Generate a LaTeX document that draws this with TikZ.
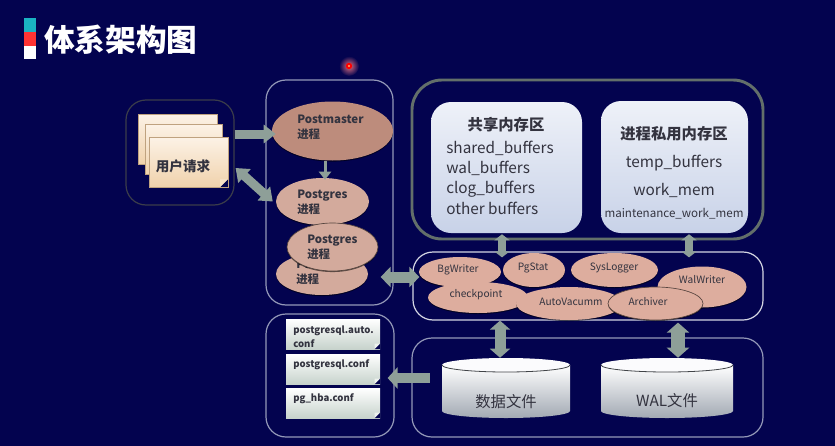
\documentclass[tikz,border=0pt]{standalone}
\usepackage{fontspec}
\setmainfont{Noto Sans CJK SC}
\usetikzlibrary{shapes.geometric,arrows.meta,shadows}
\def\u{0.75pt}
\newcommand{\fpx}[2]{\fontsize{#1}{#2}\selectfont}
\definecolor{bg}{HTML}{03034F}
\definecolor{arrowc}{HTML}{8E9F98}
\definecolor{edgelight}{HTML}{9499B8}
\definecolor{darktxt}{HTML}{33333F}
\definecolor{pmfill}{HTML}{BD8C7C}
\definecolor{pgfill}{HTML}{D3AA9C}
\definecolor{bgproc}{HTML}{DDAD9E}
\definecolor{memT}{HTML}{EEF1F8}
\definecolor{memb}{HTML}{C8D2E8}
\definecolor{paperT}{HTML}{FCF2E6}
\definecolor{paperB}{HTML}{F0D2AC}
\definecolor{paperE}{HTML}{BFA27F}
\definecolor{confB}{HTML}{C7D3CC}
\definecolor{confF}{HTML}{EEF2EE}
\definecolor{cylB}{HTML}{A2A9B3}
\definecolor{glow}{HTML}{E07080}
\tikzset{
  x=0.75pt,y=-0.75pt,
  framebox/.style={draw=edgelight,line width=0.9pt,rounded corners=20*\u,inner sep=0,fill=none},
  membox/.style={rounded corners=20*\u,inner sep=0,top color=memT,bottom color=memb,draw=none},
  paper/.style={rectangle,inner sep=0,top color=paperT,bottom color=paperB,draw=paperE,line width=0.7pt},
  confnote/.style={rectangle,inner sep=0,top color=white,bottom color=confB,draw=none,
    path picture={\fill[bg] (path picture bounding box.south east) -- ++(-4pt,0) -- ++(4pt,4pt) -- cycle;
      \fill[confF] (path picture bounding box.south east) ++(-4pt,0) -- ++(4pt,4pt) -- ++(-4pt,0) -- cycle;}},
  softedge/.style={drop shadow={shadow xshift=0pt,shadow yshift=-0.8pt,fill=black,opacity=0.55}},
  proc/.style={ellipse,inner sep=0,fill=bgproc,softedge},
  pg/.style={ellipse,inner sep=0,fill=pgfill,softedge},
  ptext/.style={text=darktxt,align=left,inner sep=0,font=\bfseries\fpx{8.6}{11}},
  lbl/.style={text=darktxt,inner sep=0,font=\fpx{7.6}{10}},
  bufl/.style={text=darktxt,inner sep=0,anchor=base west,font=\fpx{11.5}{14}},
  bufc/.style={text=darktxt,inner sep=0,anchor=base,font=\fpx{11.5}{14}},
  conft/.style={text=darktxt,inner sep=0,anchor=west,align=left,font=\bfseries\fpx{7.2}{10.5}},
  single/.style={draw=arrowc,line width=#1*\u},
}
\newcommand{\cylbody}[2]{% centre x, half width
  \shade[top color=white,bottom color=cylB]
    (#1-#2,365) -- (#1-#2,411) arc[start angle=180,end angle=360,x radius=#2*\u,y radius=7*\u] -- (#1+#2,365) -- cycle;
  \fill[white!92!memb] (#1,365) ellipse[x radius=#2*\u,y radius=7*\u];
  \draw[black!60!cylB,line width=0.6pt] (#1-#2,365) arc[start angle=180,end angle=360,x radius=#2*\u,y radius=7*\u];
}
\begin{document}
\begin{tikzpicture}
\useasboundingbox (0,0) rectangle (835,446);
\fill[bg] (0,0) rectangle (835,446);
% title
\fill[cyan!70!green!90!white] (24,18) rectangle (36,32);
\fill[red!80!white] (24,32) rectangle (36,46);
\fill[white] (24,46) rectangle (36,59);
\node[text=white,anchor=west,inner sep=0,font=\bfseries\fpx{23}{26}] (title) at (44,40) {体系架构图};
% pointer
\shade[inner color=glow,outer color=bg] (349,66) circle[radius=10*\u];
\fill[red] (349,66) circle[radius=3.2*\u];
\fill[orange!60!white] (349,66) circle[radius=1.1*\u];
% frames
\node[framebox,draw=black!60!edgelight,minimum width=108*\u,minimum height=105*\u] (user) at (180,152.5) {};
\node[framebox,minimum width=127*\u,minimum height=225*\u] (procbox) at (329.5,192.5) {};
\node[framebox,draw=black!30!arrowc,line width=2.2pt,rounded corners=30*\u,minimum width=351*\u,minimum height=159*\u] (mem) at (587.5,159.5) {};
\node[framebox,draw=white!60!edgelight,minimum width=350*\u,minimum height=68*\u] (mid) at (588,286) {};
\node[framebox,minimum width=128*\u,minimum height=123*\u] (confbox) at (330,375.5) {};
\node[framebox,minimum width=351*\u,minimum height=99*\u] (store) at (587.5,387.5) {};
% user papers
\node[paper,minimum width=79*\u,minimum height=50*\u] (p1) at (177.5,139) {};
\node[paper,minimum width=77*\u,minimum height=50*\u] (p2) at (183.5,149) {};
\node[paper,minimum width=79*\u,minimum height=50*\u,
  path picture={\fill[bg] (path picture bounding box.south east) -- ++(-6pt,0) -- ++(6pt,6pt) -- cycle;
  \fill[paperB!70!white] (path picture bounding box.south east) ++(-6pt,0) -- ++(6pt,6pt) -- ++(-6pt,0) -- cycle;}] (p3) at (188.5,162) {};
\node[text=darktxt,inner sep=0,font=\bfseries\fpx{10.2}{12}] (ut) at (183,166) {用户请求};
% processes
\node[ellipse,inner sep=0,fill=pmfill,softedge,minimum width=121*\u,minimum height=59*\u] (pm) at (332.5,131) {};
\node[ptext,anchor=west] (pmt) at (297,127.5) {Postmaster\\进程};
\node[pg,minimum width=93*\u,minimum height=47*\u] (pg1) at (322.5,201.5) {};
\node[ptext,anchor=west] (pg1t) at (297,202) {Postgres\\进程};
\node[pg,minimum width=92*\u,minimum height=42*\u] (pg3) at (322,274) {};
\node[ptext,anchor=west] (pg3t) at (296,272) {Postgres\\进程};
\node[pg,draw=black!60!pgfill,line width=0.5pt,minimum width=91*\u,minimum height=48*\u] (pg2) at (332.5,247) {};
\node[ptext,anchor=west] (pg2t) at (307,247.5) {Postgres\\进程};
% memory
\node[membox,minimum width=151*\u,minimum height=131*\u] (shared) at (506.5,167.5) {};
\node[membox,minimum width=147*\u,minimum height=132*\u] (private) at (674.5,167) {};
\node[text=darktxt,inner sep=0,font=\bfseries\fpx{11.5}{13}] (st) at (506,125) {共享内存区};
\node[bufl] (s1) at (446,153) {shared\_buffers};
\node[bufl] (s2) at (446,173.5) {wal\_buffers};
\node[bufl] (s3) at (446,193.5) {clog\_buffers};
\node[bufl] (s4) at (446,214) {other buffers};
\node[text=darktxt,inner sep=0,font=\bfseries\fpx{11.5}{13}] (pt) at (674,134) {进程私用内存区};
\node[bufc] (t1) at (674,167) {temp\_buffers};
\node[bufc] (t2) at (674,195) {work\_mem};
\node[bufc,font=\fpx{8.7}{11}] (t3) at (674,217) {maintenance\_work\_mem};
% background processes
\node[proc,minimum width=82*\u,minimum height=30*\u] (bg) at (460,272) {};
\node[lbl] (bgt) at (458,270) {BgWriter};
\node[proc,minimum width=62*\u,minimum height=34*\u] (ps) at (534,270) {};
\node[lbl] (pst) at (533,268) {PgStat};
\node[proc,minimum width=87*\u,minimum height=34*\u] (sl) at (614.5,270) {};
\node[lbl] (slt) at (614,268) {SysLogger};
\node[proc,minimum width=89*\u,minimum height=41*\u] (ww) at (702,287) {};
\node[lbl] (wwt) at (702,280) {WalWriter};
\node[proc,minimum width=100*\u,minimum height=31*\u] (cp) at (478,297.5) {};
\node[lbl] (cpt) at (476,295) {checkpoint};
\node[proc,minimum width=106*\u,minimum height=33*\u] (av) at (569,303.5) {};
\node[lbl] (avt) at (571,302) {AutoVacumm};
\node[proc,draw=black!60!bgproc,line width=0.5pt,minimum width=95*\u,minimum height=33*\u] (ar) at (655.5,303.5) {};
\node[lbl] (art) at (648,302) {Archiver};
% config notes
\node[confnote,minimum width=94*\u,minimum height=30*\u] (c1) at (333,334) {};
\node[conft] (c1t) at (293,337) {postgresql.auto.\\conf};
\node[confnote,minimum width=94*\u,minimum height=30*\u] (c2) at (333,369) {};
\node[conft] (c2t) at (293,365) {postgresql.conf};
\node[confnote,minimum width=94*\u,minimum height=30*\u] (c3) at (333,403) {};
\node[conft] (c3t) at (293,399) {pg\_hba.conf};
% cylinders
\cylbody{506}{64}
\cylbody{667}{66}
\node[inner sep=0,minimum width=128*\u,minimum height=60*\u] (data) at (506,388) {};
\node[inner sep=0,minimum width=132*\u,minimum height=60*\u] (wal) at (667,388) {};
\node[text=darktxt,inner sep=0,font=\fpx{11.5}{13}] (datat) at (506,402) {数据文件};
\node[text=darktxt,inner sep=0,font=\fpx{11.5}{13}] (walt) at (667,401) {WAL文件};
% connectors
\draw[single=9,-{Triangle[length=12*\u,width=18*\u]}] ([yshift=18.5*\u]user.east) -- ([xshift=4*\u,yshift=-3*\u]pm.west);
\draw[single=9,{Triangle[length=12*\u,width=18*\u]}-{Triangle[length=12*\u,width=18*\u]}] ([xshift=1*\u,yshift=-15.5*\u]user.east) -- ([xshift=-3*\u]pg1.west);
\draw[single=3,-{Triangle[length=8*\u,width=12*\u]}] ([xshift=-7.5*\u]pm.south) -- ([xshift=2.5*\u,yshift=-2*\u]pg1.north);
\draw[single=8,{Triangle[length=6*\u,width=15*\u]}-{Triangle[length=6*\u,width=15*\u]}] ([xshift=-4.5*\u,yshift=-1*\u]shared.south) -- ([xshift=-86*\u,yshift=-6*\u]mid.north);
\draw[single=8,{Triangle[length=6*\u,width=15*\u]}-{Triangle[length=6*\u,width=15*\u]}] ([xshift=14.5*\u,yshift=-1*\u]private.south) -- ([xshift=101*\u,yshift=-6*\u]mid.north);
\draw[single=11,{Triangle[length=10*\u,width=20*\u]}-{Triangle[length=10*\u,width=20*\u]}] ([xshift=-13*\u,yshift=-84.5*\u]procbox.east) -- ([xshift=7*\u,yshift=9*\u]mid.west);
\draw[single=11,{Triangle[length=9*\u,width=20*\u]}-{Triangle[length=9*\u,width=20*\u]}] ([xshift=-88*\u]mid.south) -- ([xshift=-6*\u]data.north);
\draw[single=14,{Triangle[length=10*\u,width=22*\u]}-{Triangle[length=10*\u,width=22*\u]}] ([xshift=90*\u,yshift=-2*\u]mid.south) -- ([xshift=11*\u]wal.north);
\draw[single=10,-{Triangle[length=10*\u,width=21*\u]}] ([xshift=-12*\u,yshift=10*\u]data.west) -- ([xshift=-7*\u,yshift=-2.5*\u]confbox.east);
\end{tikzpicture}
\end{document}
